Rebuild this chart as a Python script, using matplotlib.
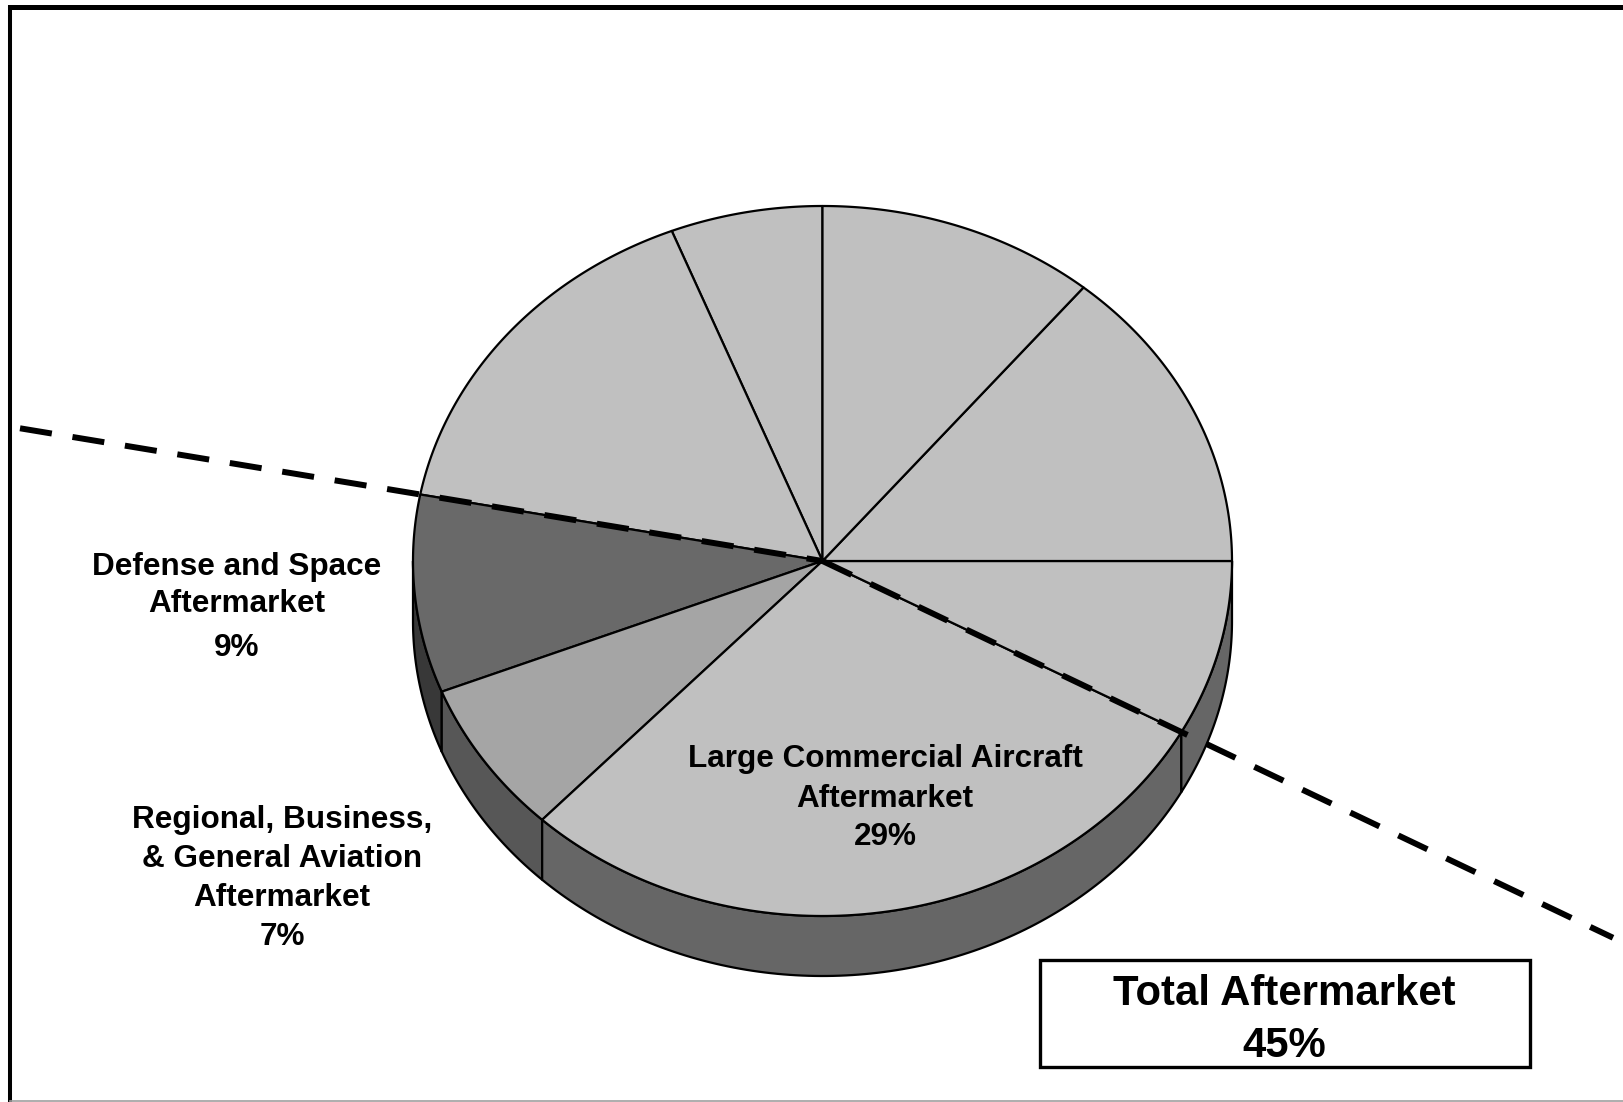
import numpy as np
import matplotlib
matplotlib.use("Agg")
import matplotlib.pyplot as plt
from matplotlib.patches import Polygon, Rectangle

plt.rcParams['font.family'] = ['Liberation Sans', 'DejaVu Sans']

# ---- data: share of revenue by segment, counter-clockwise from 12 o'clock ----
shares = [6, 16, 9, 7, 29, 8, 14, 11]
segment_names = [
    None,
    None,
    "Defense and Space\nAftermarket",
    "Regional, Business,\n& General Aviation\nAftermarket",
    "Large Commercial Aircraft\nAftermarket",
    None,
    None,
    None,
]
total_title = "Total Aftermarket"

# ---- styles ----
top_colors = ["#c0c0c0", "#c0c0c0", "#696969", "#a5a5a5",
              "#c0c0c0", "#c0c0c0", "#c0c0c0", "#c0c0c0"]
side_shade = 0.53

# ---- layout (pixel units of the canvas) ----
W, H = 1623, 1102
CX, CY = 822.5, 561.0       # pie centre
RX, RY = 409.5, 355.0       # elliptical radii of the top face
DEPTH = 60.0                # thickness of the pie
START = 90.0

# label anchors: (x centre, first baseline, line step, percent baseline)
label_layout = {
    2: (237, 575, 37, 656),
    3: (282, 828, 39, 945),
    4: (885, 767, 40, 845),
}

fig = plt.figure(figsize=(W / 100, H / 100), dpi=100)
ax = fig.add_axes([0, 0, 1, 1])
ax.set_xlim(0, W)
ax.set_ylim(H, 0)
ax.axis("off")


def pt(angle_deg, dy=0.0):
    a = np.radians(angle_deg)
    return CX + RX * np.cos(a), CY - RY * np.sin(a) + dy


def arc(a1, a2, dy=0.0, n=120):
    t = np.radians(np.linspace(a1, a2, n))
    return np.column_stack([CX + RX * np.cos(t), CY - RY * np.sin(t) + dy])


def shade(hex_color, f):
    rgb = np.array(matplotlib.colors.to_rgb(hex_color)) * f
    return tuple(rgb)


bounds = START + 360.0 * np.concatenate([[0], np.cumsum(shares)]) / sum(shares)

# side walls of the front half of the pie
for i in range(len(shares)):
    a1, a2 = max(bounds[i], 180.0), min(bounds[i + 1], 360.0)
    if a2 <= a1:
        continue
    top = arc(a1, a2)
    bottom = arc(a1, a2, dy=DEPTH)[::-1]
    ax.add_patch(Polygon(np.vstack([top, bottom]), closed=True,
                         facecolor=shade(top_colors[i], side_shade),
                         edgecolor="black", linewidth=1.6, joinstyle="round"))

# top face wedges
for i in range(len(shares)):
    pts = np.vstack([[CX, CY], arc(bounds[i], bounds[i + 1])])
    ax.add_patch(Polygon(pts, closed=True, facecolor=top_colors[i],
                         edgecolor="black", linewidth=1.6, joinstyle="round"))

# dashed divider between aftermarket and the remaining segments
labelled = [i for i, n in enumerate(segment_names) if n]
a_left = bounds[min(labelled)]
a_right = bounds[max(labelled) + 1]
dash = dict(color="black", linewidth=4.3, linestyle=(0, (5.4, 3.5)),
            dash_capstyle="butt", solid_capstyle="butt")
for ang, x_end in ((a_left, 20.0), (a_right, 1613.0)):
    ex, ey = pt(ang)
    t = (x_end - CX) / (ex - CX)
    y_end = CY + t * (ey - CY)
    if x_end < CX:
        ax.plot([x_end, CX], [y_end, CY], **dash)
    else:
        ax.plot([CX, x_end], [CY, y_end], **dash)

# segment labels
for i, (x, y0, step, yp) in label_layout.items():
    for k, line in enumerate(segment_names[i].split("\n")):
        ax.text(x, y0 + k * step, line, ha="center", va="baseline",
                fontsize=22.7, fontweight="bold", color="black")
    ax.text(x, yp, f"{shares[i]}%", ha="center", va="baseline",
            fontsize=22.7, fontweight="bold", color="black")

# total aftermarket box
total = sum(shares[i] for i in labelled)
ax.add_patch(Rectangle((1040, 960), 490, 107, facecolor="white",
                       edgecolor="black", linewidth=2.4))
ax.text(1284, 1005, total_title, ha="center", va="baseline",
        fontsize=30.2, fontweight="bold", color="black")
ax.text(1284, 1057, f"{total}%", ha="center", va="baseline",
        fontsize=30.2, fontweight="bold", color="black")

# outer frame
ax.plot([8, W], [6.5, 6.5], color="black", linewidth=3.6, solid_capstyle="butt")
ax.plot([10.3, 10.3], [4.5, H], color="black", linewidth=2.9, solid_capstyle="butt")
ax.plot([10, W], [1101, 1101], color="#a0a0a0", linewidth=1.2)

fig.savefig("out.png", dpi=100, facecolor="white")
